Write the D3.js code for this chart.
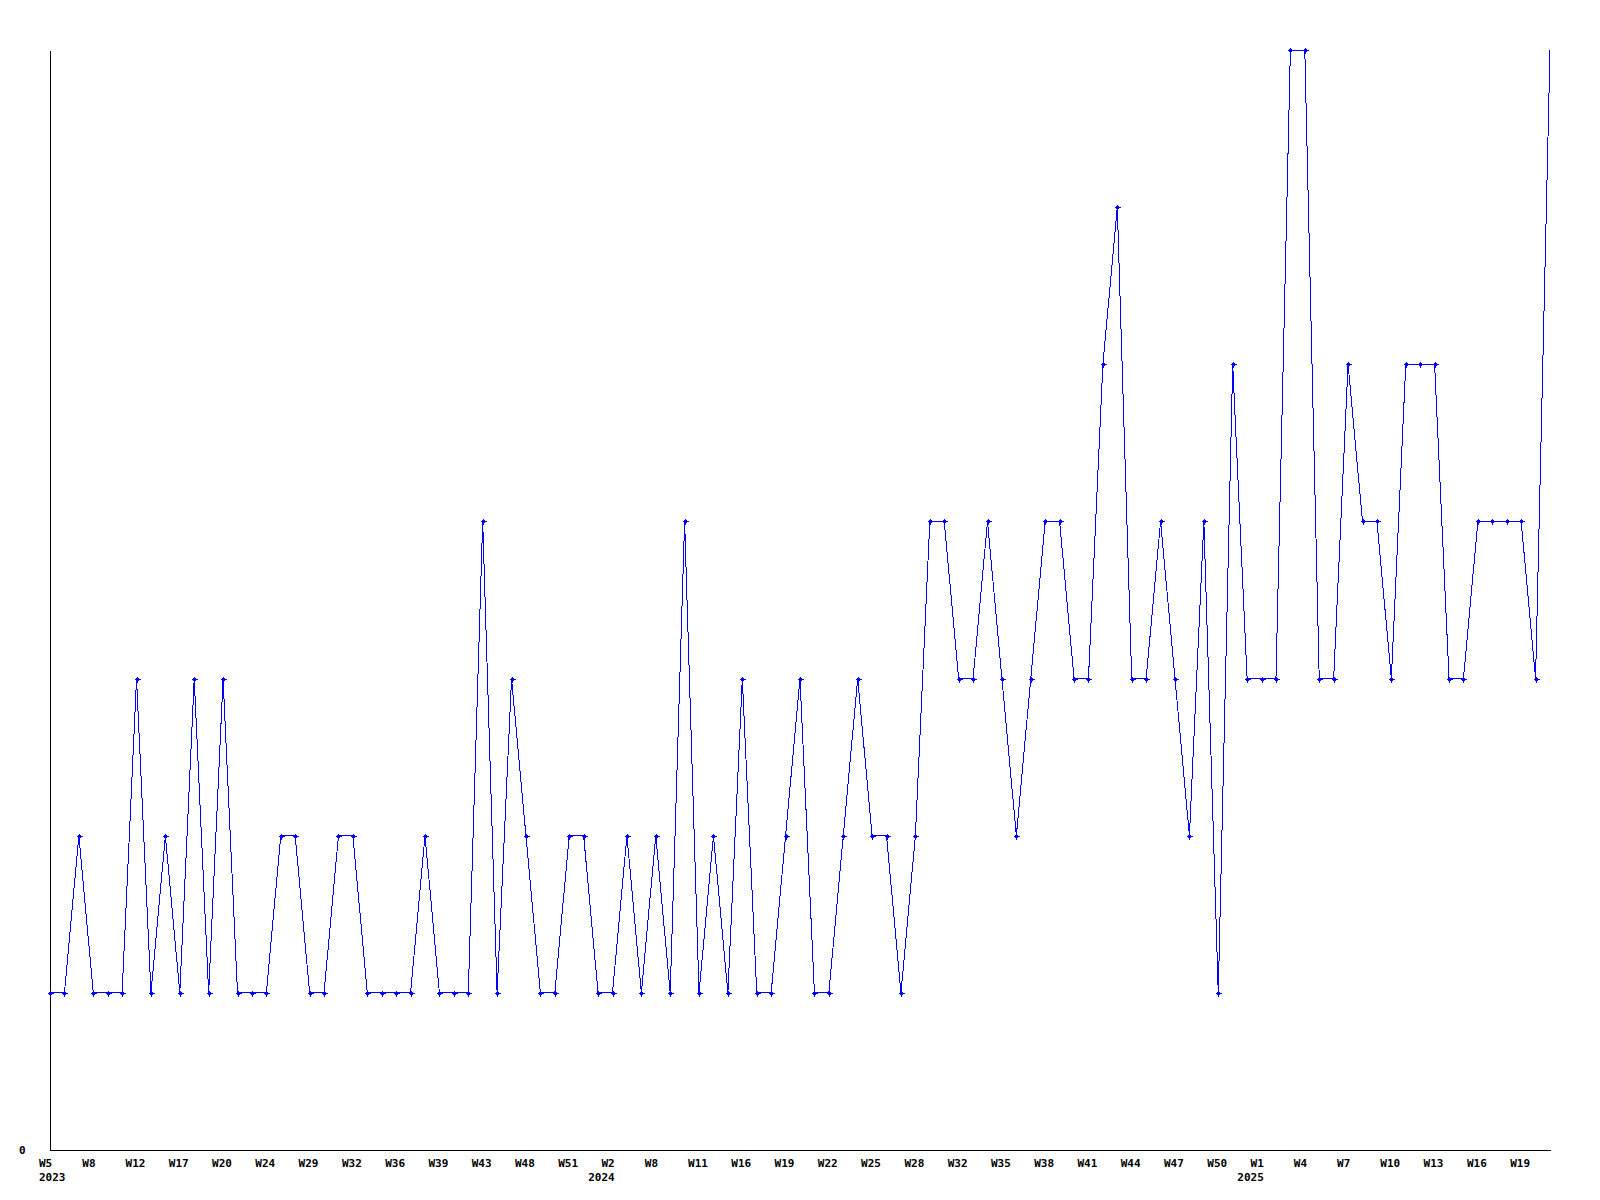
<!DOCTYPE html>
<html>
<head>
<meta charset="utf-8">
<script src="https://cdn.jsdelivr.net/npm/d3@7"></script>
<style>
  html, body { margin: 0; padding: 0; background: #fff; }
  svg { display: block; }
  text { font-family: "DejaVu Sans Mono", monospace; font-weight: bold; font-size: 11px; fill: #000; }
</style>
</head>
<body>
<svg id="chart" width="1600" height="1200"></svg>
<script>
// ---- data ----
const years = [
  2023,2023,2023,2023,2023,2023,2023,2023,2023,2023,2023,2023,2023,2023,2023,2023,2023,2023,2023,2023,
  2023,2023,2023,2023,2023,2023,2023,2023,2023,2023,2023,2023,2023,2023,2023,2023,2023,2023,
  2024,2024,2024,2024,2024,2024,2024,2024,2024,2024,2024,2024,2024,2024,2024,2024,2024,2024,2024,2024,
  2024,2024,2024,2024,2024,2024,2024,2024,2024,2024,2024,2024,2024,2024,2024,2024,2024,2024,2024,2024,
  2024,2024,2024,2024,2024,2024,
  2025,2025,2025,2025,2025,2025,2025,2025,2025,2025,2025,2025,2025,2025,2025,2025,2025,2025,2025,2025,2025
];
const weeks = [
  5,6,7,8,9,10,12,13,15,17,18,19,20,21,22,24,25,27,29,30,
  31,32,33,35,36,37,38,39,40,42,43,45,46,48,49,50,51,52,
  1,2,4,6,8,9,10,11,13,14,16,17,18,19,20,21,22,23,24,25,
  26,27,28,29,31,32,33,34,35,36,37,38,39,40,41,42,43,44,45,46,
  47,48,49,50,51,52,
  1,2,3,4,5,6,7,8,9,10,11,12,13,14,15,16,17,18,19,20,21
];
const values = [
  1,1,2,1,1,1,3,1,2,1,3,1,3,1,1,1,2,2,1,1,
  2,2,1,1,1,1,2,1,1,1,4,1,3,2,1,1,2,2,1,1,
  2,1,2,1,4,1,2,1,3,1,1,2,3,1,1,2,3,2,2,1,
  2,4,4,3,3,4,3,2,3,4,4,3,3,5,6,3,3,4,3,2,
  4,1,5,3,3,3,7,7,3,3,5,4,4,3,5,5,5,3,3,4,
  4,4,4,3,7
];
const yMax = 7;
const yTicks = [0];
const tickEvery = 3;

// ---- build ----
const categories = years.map((y, i) => y + "-W" + weeks[i]);
const data = categories.map((c, i) => ({ cat: c, year: years[i], week: weeks[i], value: values[i] }));
const tickCats = categories.filter((c, i) => i % tickEvery === 0);

const svg = d3.select("#chart");
const x = d3.scalePoint().domain(categories).range([50, 1550]);
const y = d3.scaleLinear().domain([0, yMax]).range([1150, 50]);

// y axis
const yAxis = svg.append("g")
  .attr("transform", "translate(50,0)")
  .call(d3.axisLeft(y).tickValues(yTicks).tickSize(0).tickSizeOuter(0).tickPadding(24.5).tickFormat(d3.format("d")));
yAxis.select(".domain").attr("stroke", "#000").attr("shape-rendering", "crispEdges");
yAxis.attr("font-family", null).attr("font-size", null);

// x axis
const xAxis = svg.append("g")
  .attr("transform", "translate(0,1150)")
  .call(d3.axisBottom(x).tickValues(tickCats).tickSize(0).tickSizeOuter(0));
xAxis.select(".domain").attr("stroke", "#000").attr("shape-rendering", "crispEdges");
xAxis.attr("font-family", null).attr("font-size", null);

const labelDx = -11.5;
let prevYear = null;
xAxis.selectAll(".tick").each(function(c) {
  const d = data[categories.indexOf(c)];
  const t = d3.select(this).select("text");
  t.text(null).attr("y", null).attr("dy", null).attr("text-anchor", "start");
  t.append("tspan").attr("x", labelDx).attr("y", 16.5).text("W" + d.week);
  if (d.year !== prevYear) {
    const wLen = ("W" + d.week).length;
    if (prevYear === null) {
      t.append("tspan").attr("x", labelDx).attr("y", 30.5).text(d.year);
    } else {
      const right = labelDx + wLen * 6.62;
      d3.select(this).append("text")
        .attr("text-anchor", "end").attr("x", right).attr("y", 30.5).text(d.year);
    }
    prevYear = d.year;
  }
});

// line
const line = d3.line().x(d => x(d.cat)).y(d => y(d.value));
svg.append("path")
  .datum(data)
  .attr("d", line)
  .attr("fill", "none")
  .attr("stroke", "#0000ff")
  .attr("stroke-width", 1)
  .attr("shape-rendering", "crispEdges");

// markers (the last point has none in the reference)
const mk = svg.append("g").selectAll("g").data(data.slice(0, -1)).join("g")
  .attr("transform", d => `translate(${Math.round(x(d.cat))},${Math.round(y(d.value))})`);
mk.append("path")
  .attr("d", "M-2.5,0.5H3.5M0.5,-2.5V3.5")
  .attr("stroke", "#0000ff").attr("stroke-width", 1).attr("fill", "none")
  .attr("shape-rendering", "crispEdges");
mk.append("rect")
  .attr("x", -1).attr("y", -1).attr("width", 3).attr("height", 3)
  .attr("fill", "#0000ff").attr("shape-rendering", "crispEdges");
</script>
</body>
</html>
